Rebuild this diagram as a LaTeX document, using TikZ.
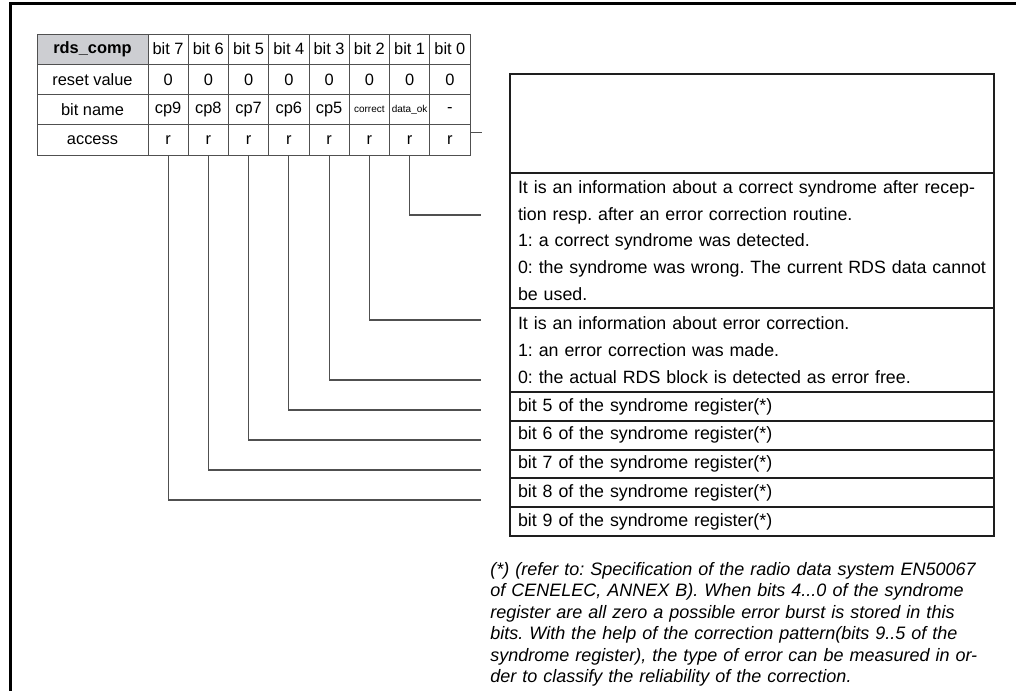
\documentclass[tikz,border=0pt]{standalone}
\usepackage{fontspec}
\setmainfont{Liberation Sans}
\usetikzlibrary{positioning}
\hyphenpenalty=10000
\frenchspacing

\definecolor{hdgray}{RGB}{205,206,210}
\definecolor{linegray}{RGB}{80,80,80}
\definecolor{boxblack}{RGB}{30,30,30}

\tikzset{
  cell/.style={draw=linegray, line width=0.5pt, inner sep=0pt,
    minimum width=20.125pt, minimum height=15.125pt,
    font=\fontsize{8.2}{9}\selectfont},
  namecell/.style={cell, minimum width=55.5pt},
  link/.style={draw=linegray, line width=0.6pt},
  descbox/.style={draw=boxblack, line width=1pt, outer sep=0pt,
    inner xsep=4pt, inner ysep=0pt, text width=234pt, align=left,
    anchor=north west, minimum height=14.4pt,
    font=\fontsize{8.9}{13.4}\selectfont}
}

\begin{document}
\begin{tikzpicture}[x=0.5pt, y=-0.5pt]

  \newcommand\colw{40.25};
  \newcommand\rowh{30.25};

  \useasboundingbox (0,0) rectangle (1016,691);
  \draw[line width=1.5pt] (1016,3) -- (10,3) -- (10,691);

  % register table
  \node[namecell, fill=hdgray, font=\fontsize{8.2}{9}\selectfont\bfseries]
  (hd0) at (92.5, 34+0.5*\rowh) {rds\_comp};
  \node[namecell] (rv0) at (92.5, 34+1.5*\rowh) {reset value};
  \node[namecell] (bn0) at (92.5, 34+2.5*\rowh) {bit name};
  \node[namecell] (ac0) at (92.5, 34+3.5*\rowh) {access};

  \foreach \t [count=\i] in {7,6,5,4,3,2,1,0}
    \node[cell] (hd\i) at (148+\i*\colw-0.5*\colw, 34+0.5*\rowh) {bit \t};
  \foreach \i in {1,...,8}
    \node[cell] (rv\i) at (148+\i*\colw-0.5*\colw, 34+1.5*\rowh) {0};
  \foreach \t [count=\i] in {cp9,cp8,cp7,cp6,cp5,
      {\fontsize{5}{6}\selectfont correct},
      {\fontsize{5}{6}\selectfont data\_ok},-}
    \node[cell] (bn\i) at (148+\i*\colw-0.5*\colw, 34+2.5*\rowh) {\t};
  \foreach \i in {1,...,8}
    \node[cell] (ac\i) at (148+\i*\colw-0.5*\colw, 34+3.5*\rowh) {r};

  \draw[link] (ac8.east) ++(0,-7) -- ++(11,0);

  % bit lines
  \foreach \i/\y in {7/215,6/320,5/380,4/410,3/440,2/470,1/500}{
    \coordinate (end\i) at (481,\y);
    \draw[link] (ac\i.south) |- (end\i);
  }

  % descriptions
  \node[descbox, minimum height=49.5pt] (bx0) at (510,74) {};
  \node[descbox, minimum height=67.5pt, below=0pt of bx0] (bx1)
  {\makebox[234pt][s]{It is an information about a correct syndrome after recep-}\\
   tion resp. after an error correction routine.\\
   1: a correct syndrome was detected.\\
   \makebox[234pt][s]{0: the syndrome was wrong. The current RDS data cannot}\\
   be used.};
  \node[descbox, minimum height=42pt, below=0pt of bx1] (bx2)
  {It is an information about error correction.\\
   1: an error correction was made.\\
   0: the actual RDS block is detected as error free.};
  \node[descbox, below=0pt of bx2] (bx3) {bit 5 of the syndrome register(*)};
  \node[descbox, below=0pt of bx3] (bx4) {bit 6 of the syndrome register(*)};
  \node[descbox, below=0pt of bx4] (bx5) {bit 7 of the syndrome register(*)};
  \node[descbox, below=0pt of bx5] (bx6) {bit 8 of the syndrome register(*)};
  \node[descbox, below=0pt of bx6] (bx7) {bit 9 of the syndrome register(*)};

  \node[anchor=north west, inner sep=0pt, text width=251pt,
    font=\fontsize{9}{10.75}\selectfont\itshape] (note) at (490,562)
  {\noindent\hangindent=11.5pt\hangafter=1
   (*) (refer to: Specification of the radio data system EN50067\\
   of CENELEC, ANNEX B). When bits 4...0 of the syndrome\linebreak
   register are all zero a possible error burst is stored in this\linebreak
   bits. With the help of the correction pattern(bits 9..5 of the\linebreak
   syndrome register), the type of error can be measured in or-\linebreak
   der to classify the reliability of the correction.};

\end{tikzpicture}
\end{document}
